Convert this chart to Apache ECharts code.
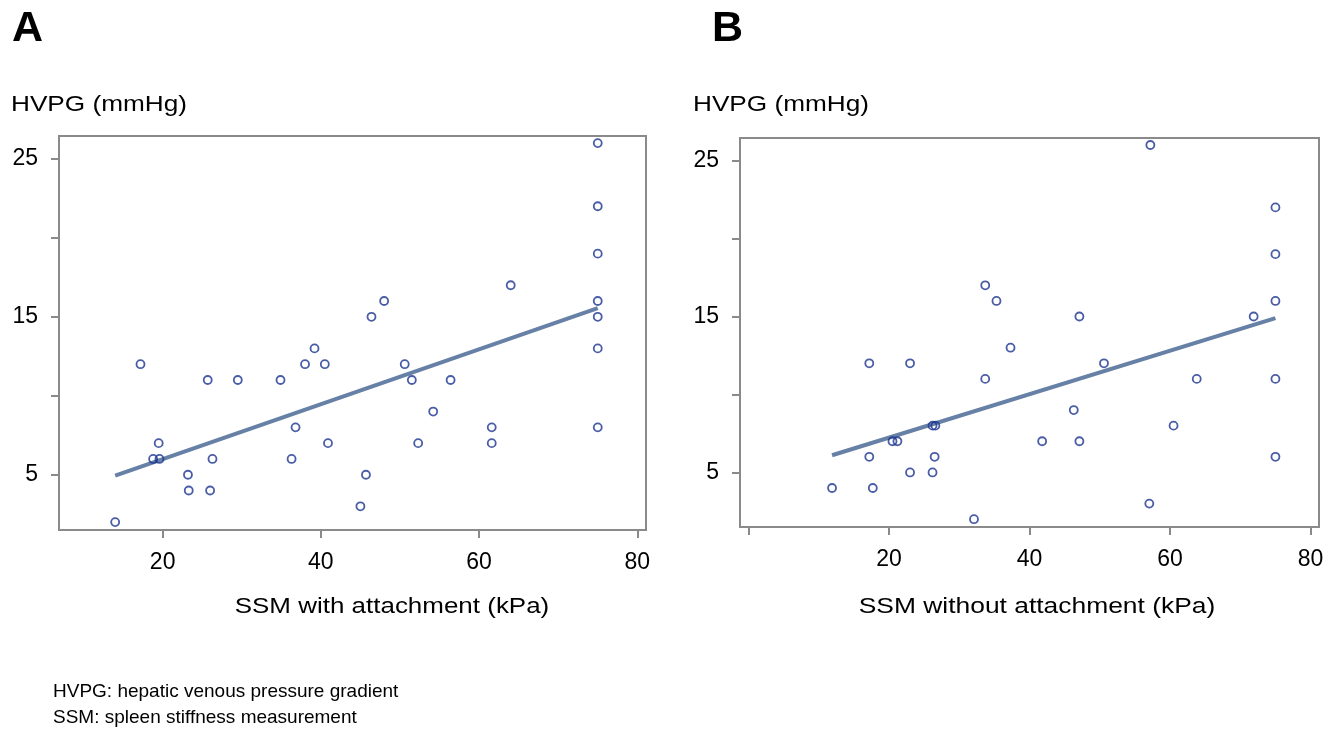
<!DOCTYPE html>
<html>
<head>
<meta charset="utf-8">
<script src="https://cdn.jsdelivr.net/npm/echarts@6/dist/echarts.min.js"></script>
<style>
  html, body { margin: 0; padding: 0; background: #ffffff; }
  #chart { width: 1340px; height: 736px; }
</style>
</head>
<body>
<div id="chart"></div>
<script>
// ---- Panel A: SSM with attachment ----
const aX = [14.0, 17.2, 18.8, 19.6, 19.5, 23.2, 23.3, 26.0, 25.7, 26.3, 29.5, 34.9, 36.3, 36.8, 38.0, 39.2, 40.5, 40.9, 45.0, 45.7, 46.4, 48.0, 50.6, 51.5, 52.3, 54.2, 56.4, 61.6, 61.6, 64.0, 75.0, 75.0, 75.0, 75.0, 75.0, 75.0, 75.0];
const aY = [2, 12, 6, 6, 7, 5, 4, 4, 11, 6, 11, 11, 6, 8, 12, 13, 12, 7, 3, 5, 15, 16, 12, 11, 7, 9, 11, 8, 7, 17, 26, 22, 19, 16, 15, 13, 8];
const fitAX = [14.0, 75.0];
const fitAY = [4.95, 15.55];

// ---- Panel B: SSM without attachment ----
const bX = [11.9, 17.2, 17.2, 17.7, 20.5, 21.2, 23.0, 23.0, 26.2, 26.6, 26.5, 26.2, 32.1, 33.7, 33.7, 35.3, 37.3, 41.8, 46.3, 47.1, 47.1, 50.6, 57.05, 57.2, 60.5, 63.8, 71.9, 75.0, 75.0, 75.0, 75.0, 75.0];
const bY = [4, 12, 6, 4, 7, 7, 12, 5, 8, 8, 6, 5, 2, 17, 11, 16, 13, 7, 9, 15, 7, 12, 3, 26, 8, 11, 15, 22, 19, 16, 11, 6];
const fitBX = [11.9, 75.0];
const fitBY = [6.1, 14.9];

// ---- ticks / labels ----
const yTicks = [5, 10, 15, 20, 25];
const yLabels = [5, 15, 25];
const xTicksA = [20, 40, 60, 80];
const xTicksB = [0, 20, 40, 60, 80];
const xLabels = [20, 40, 60, 80];

const panelLetters = ['A', 'B'];
const yTitle = 'HVPG (mmHg)';
const xTitles = ['SSM with attachment (kPa)', 'SSM without attachment (kPa)'];
const notes = ['HVPG: hepatic venous pressure gradient', 'SSM: spleen stiffness measurement'];

const frameColor = '#8a8a8a';
const pointColor = '#1b3590';
const fitColor = '#6680a6';
const textColor = '#000000';
const fontFam = '"Liberation Sans", Arial, sans-serif';

const pairs = (xs, ys) => xs.map((x, i) => [x, ys[i]]);

function xAxisCfg(gridIndex, min, max, ticks) {
  return {
    type: 'value', gridIndex, min, max,
    axisLine: { show: true, onZero: false, lineStyle: { color: frameColor, width: 2 } },
    axisTick: { show: true, inside: false, length: 8, customValues: ticks, lineStyle: { color: frameColor, width: 2 } },
    axisLabel: { customValues: xLabels, margin: 21, fontSize: 23, fontFamily: fontFam, color: textColor },
    splitLine: { show: false }
  };
}
function yAxisCfg(gridIndex) {
  return {
    type: 'value', gridIndex, min: 1.5, max: 26.45,
    axisLine: { show: true, onZero: false, lineStyle: { color: frameColor, width: 2 } },
    axisTick: { show: true, inside: false, length: 8, customValues: yTicks, lineStyle: { color: frameColor, width: 2 } },
    axisLabel: { customValues: yLabels, margin: 21, fontSize: 23, fontFamily: fontFam, color: textColor },
    splitLine: { show: false }
  };
}

function txt(x, y, text, opts) {
  opts = opts || {};
  return {
    type: 'text', x, y, scaleX: opts.scaleX || 1, silent: true,
    style: {
      text, x: 0, y: 0,
      fill: textColor,
      font: (opts.bold ? 'bold ' : '') + (opts.size || 22) + 'px ' + fontFam,
      align: opts.align || 'left',
      verticalAlign: 'middle'
    }
  };
}

const chart = echarts.init(document.getElementById('chart'), null, { renderer: 'canvas' });
chart.setOption({
  animation: false,
  backgroundColor: '#ffffff',
  grid: [
    { left: 59, right: 694, top: 136, bottom: 206, show: true, borderColor: frameColor, borderWidth: 2, backgroundColor: 'transparent' },
    { left: 740, right: 21, top: 138, bottom: 209, show: true, borderColor: frameColor, borderWidth: 2, backgroundColor: 'transparent' }
  ],
  xAxis: [
    xAxisCfg(0, 6.9, 81.1, xTicksA),
    xAxisCfg(1, -1.2, 81.2, xTicksB)
  ],
  yAxis: [yAxisCfg(0), yAxisCfg(1)],
  series: [
    { type: 'line', xAxisIndex: 0, yAxisIndex: 0, data: pairs(fitAX, fitAY), symbol: 'none', z: 2,
      lineStyle: { color: fitColor, width: 4 } },
    { type: 'scatter', xAxisIndex: 0, yAxisIndex: 0, data: pairs(aX, aY), symbol: 'circle', symbolSize: 8, z: 3,
      itemStyle: { color: 'rgba(255,255,255,0)', borderColor: pointColor, borderWidth: 1.8 } },
    { type: 'line', xAxisIndex: 1, yAxisIndex: 1, data: pairs(fitBX, fitBY), symbol: 'none', z: 2,
      lineStyle: { color: fitColor, width: 4 } },
    { type: 'scatter', xAxisIndex: 1, yAxisIndex: 1, data: pairs(bX, bY), symbol: 'circle', symbolSize: 8, z: 3,
      itemStyle: { color: 'rgba(255,255,255,0)', borderColor: pointColor, borderWidth: 1.8 } }
  ],
  graphic: [
    txt(12, 29, panelLetters[0], { size: 43, bold: true }),
    txt(712, 29, panelLetters[1], { size: 43, bold: true }),
    txt(11, 105, yTitle, { scaleX: 1.19 }),
    txt(693, 105, yTitle, { scaleX: 1.19 }),
    txt(392, 607, xTitles[0], { align: 'center', scaleX: 1.18 }),
    txt(1037, 607, xTitles[1], { align: 'center', scaleX: 1.2 }),
    txt(53, 692, notes[0], { size: 19 }),
    txt(53, 718, notes[1], { size: 19 })
  ]
});
</script>
</body>
</html>
